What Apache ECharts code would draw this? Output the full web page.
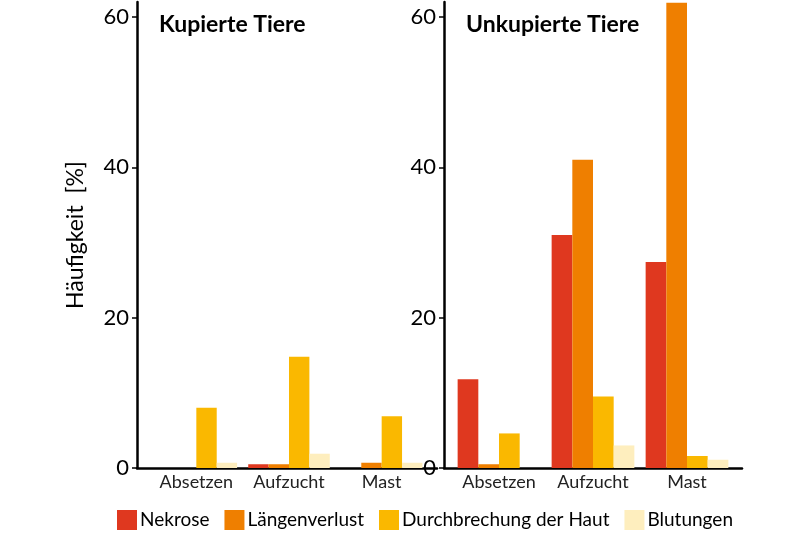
<!DOCTYPE html>
<html>
<head>
<meta charset="utf-8">
<script src="https://cdn.jsdelivr.net/npm/echarts@6/dist/echarts.min.js"></script>
<style>
    html, body { margin: 0; padding: 0; background: #fff; }
    #chart { width: 800px; height: 533px; }
</style>
</head>
<body>
<div id="chart"></div>
<script>
    // Daten
    var categories = ['Absetzen', 'Aufzucht', 'Mast'];
    var seriesNames = ['Nekrose', 'Längenverlust', 'Durchbrechung der Haut', 'Blutungen'];
    var colors = ['#DF381F', '#EF7F00', '#FAB800', '#FEEEBE'];
    var yTicks = [0, 20, 40, 60];

    // Kupierte Tiere
    var kupNekrose = [0, 0.5, 0];
    var kupLaenge = [0, 0.5, 0.7];
    var kupHaut = [8.0, 14.8, 6.9];
    var kupBlut = [0.7, 1.9, 0.7];

    // Unkupierte Tiere
    var unkNekrose = [11.8, 31.0, 27.4];
    var unkLaenge = [0.5, 41.0, 61.9];
    var unkHaut = [4.6, 9.5, 1.6];
    var unkBlut = [0, 3.0, 1.1];

    var fontFam = 'Lato';
    var panels = [
        {title: 'Kupierte Tiere', axisLeft: 137, axisWidth: 300, barLeft: 150, barWidth: 278,
            data: [kupNekrose, kupLaenge, kupHaut, kupBlut]},
        {title: 'Unkupierte Tiere', axisLeft: 444, axisWidth: 298, barLeft: 452, barWidth: 282,
            data: [unkNekrose, unkLaenge, unkHaut, unkBlut]}
    ];

    function initChart() {
        var grids = [], xAxes = [], yAxes = [], series = [], titles = [];
        panels.forEach(function (p, i) {
            var gA = grids.length, gB = gA + 1;
            // Achsen-Raster (Linien + Y-Beschriftung)
            grids.push({left: p.axisLeft, width: p.axisWidth, top: 2, height: 466});
            // Balken-Raster (Kategorien)
            grids.push({left: p.barLeft, width: p.barWidth, top: 2, height: 466});
            titles.push({
                text: p.title, left: p.axisLeft + 17, top: 8,
                textStyle: {fontFamily: fontFam, fontSize: 23, fontWeight: 'bold', color: '#000'}
            });
            xAxes.push({
                type: 'value', gridIndex: gA, min: 0, max: 1,
                axisLine: {show: true, onZero: false, lineStyle: {color: '#000', width: 2.5}},
                axisTick: {show: false}, axisLabel: {show: false}, splitLine: {show: false}
            });
            xAxes.push({
                type: 'category', gridIndex: gB, data: categories,
                axisLine: {show: false},
                axisTick: {show: false},
                axisLabel: {interval: 0, color: '#222', fontSize: 18, fontFamily: fontFam, margin: 5}
            });
            yAxes.push({
                type: 'value', gridIndex: gA, min: 0, max: 62, interval: 20,
                name: i === 0 ? 'Häufigkeit  [%]' : '',
                nameLocation: 'middle', nameGap: 50,
                nameTextStyle: {fontSize: 23, fontFamily: fontFam, color: '#000'},
                splitLine: {show: false},
                axisLine: {show: true, lineStyle: {color: '#000', width: 2.5}},
                axisTick: {show: true, length: 5, customValues: yTicks, lineStyle: {color: '#000', width: 1.5}},
                axisLabel: {color: '#000', fontSize: 22, fontFamily: fontFam, margin: 8, customValues: yTicks}
            });
            yAxes.push({
                type: 'value', gridIndex: gB, min: 0, max: 62, show: false
            });
            p.data.forEach(function (vals, k) {
                series.push({
                    name: seriesNames[k], type: 'bar',
                    xAxisIndex: gB, yAxisIndex: gB,
                    data: vals, barGap: '0%', barCategoryGap: '12%',
                    itemStyle: {color: colors[k]},
                    animation: false
                });
            });
        });

        var option = {
            backgroundColor: '#fff',
            title: titles,
            legend: {
                data: seriesNames, left: 112, top: 505,
                itemWidth: 20, itemHeight: 20, itemGap: 15,
                icon: 'rect',
                textStyle: {fontSize: 19, fontFamily: fontFam, color: '#000', padding: [0, 0, 0, -2]}
            },
            grid: grids,
            xAxis: xAxes,
            yAxis: yAxes,
            series: series
        };
        var myChart = echarts.init(document.getElementById('chart'));
        myChart.setOption(option);
    }

    initChart();
</script>
</body>
</html>
